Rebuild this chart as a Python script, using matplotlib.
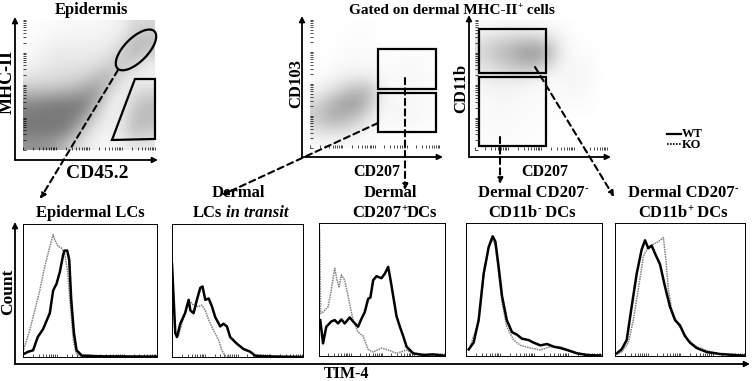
import numpy as np
import matplotlib
matplotlib.use('Agg')
import matplotlib.pyplot as plt
from matplotlib.patches import Ellipse, Polygon, Rectangle
from matplotlib.colors import LinearSegmentedColormap

plt.rcParams['font.family'] = ['Liberation Serif', 'DejaVu Serif']
plt.rcParams['font.weight'] = 'bold'

W, H = 752, 381

# ---- dot plot densities (rows top->bottom, cols left->right)
epi_density = [
    [0.00, 0.02, 0.03, 0.05, 0.05, 0.05, 0.08, 0.10, 0.30, 0.30],
    [0.02, 0.05, 0.08, 0.10, 0.10, 0.10, 0.12, 0.20, 0.50, 0.50],
    [0.05, 0.10, 0.15, 0.15, 0.15, 0.15, 0.20, 0.35, 0.55, 0.35],
    [0.10, 0.15, 0.20, 0.20, 0.20, 0.25, 0.35, 0.45, 0.30, 0.10],
    [0.20, 0.25, 0.25, 0.30, 0.35, 0.50, 0.60, 0.20, 0.10, 0.10],
    [0.50, 0.50, 0.55, 0.60, 0.70, 0.80, 0.30, 0.10, 0.25, 0.30],
    [0.90, 0.95, 1.00, 1.00, 1.00, 0.60, 0.15, 0.10, 0.40, 0.50],
    [1.00, 1.00, 1.00, 1.00, 0.80, 0.30, 0.10, 0.15, 0.50, 0.50],
    [1.00, 1.00, 1.00, 0.90, 0.40, 0.15, 0.10, 0.20, 0.50, 0.40],
    [0.80, 0.80, 0.70, 0.40, 0.20, 0.10, 0.05, 0.10, 0.20, 0.15],
]
cd103_density = [
    [0.00, 0.00, 0.00, 0.01, 0.01, 0.00, 0.00, 0.00, 0.00, 0.00],
    [0.00, 0.00, 0.01, 0.02, 0.02, 0.00, 0.00, 0.00, 0.00, 0.00],
    [0.00, 0.00, 0.02, 0.03, 0.03, 0.02, 0.00, 0.02, 0.02, 0.00],
    [0.00, 0.02, 0.05, 0.05, 0.05, 0.03, 0.02, 0.05, 0.03, 0.02],
    [0.03, 0.05, 0.10, 0.15, 0.15, 0.05, 0.03, 0.05, 0.05, 0.02],
    [0.10, 0.20, 0.35, 0.50, 0.50, 0.15, 0.05, 0.05, 0.03, 0.02],
    [0.30, 0.50, 0.70, 0.75, 0.50, 0.10, 0.05, 0.05, 0.05, 0.02],
    [0.40, 0.60, 0.60, 0.50, 0.25, 0.05, 0.05, 0.08, 0.05, 0.02],
    [0.25, 0.35, 0.30, 0.20, 0.08, 0.03, 0.03, 0.03, 0.02, 0.00],
    [0.05, 0.05, 0.05, 0.03, 0.02, 0.00, 0.00, 0.00, 0.00, 0.00],
]
cd11b_density = [
    [0.02, 0.05, 0.05, 0.05, 0.05, 0.03, 0.02, 0.00, 0.00, 0.00],
    [0.20, 0.30, 0.35, 0.40, 0.40, 0.30, 0.10, 0.02, 0.00, 0.00],
    [0.30, 0.45, 0.55, 0.70, 0.80, 0.60, 0.15, 0.03, 0.02, 0.00],
    [0.20, 0.30, 0.40, 0.50, 0.50, 0.30, 0.08, 0.05, 0.05, 0.00],
    [0.10, 0.15, 0.15, 0.15, 0.10, 0.05, 0.05, 0.08, 0.05, 0.00],
    [0.05, 0.08, 0.08, 0.06, 0.04, 0.02, 0.03, 0.06, 0.04, 0.00],
    [0.04, 0.05, 0.05, 0.04, 0.03, 0.02, 0.02, 0.03, 0.02, 0.00],
    [0.03, 0.04, 0.04, 0.03, 0.02, 0.01, 0.00, 0.00, 0.00, 0.00],
    [0.03, 0.03, 0.03, 0.02, 0.02, 0.01, 0.00, 0.00, 0.00, 0.00],
    [0.02, 0.02, 0.02, 0.02, 0.01, 0.00, 0.00, 0.00, 0.00, 0.00],
]

# ---- TIM-4 histograms (x and y as fraction of the panel)
epi_wt_x = [0.0, 0.04, 0.075, 0.11, 0.15, 0.2, 0.225, 0.25, 0.275, 0.3, 0.31, 0.33, 0.345, 0.36, 0.38, 0.4, 0.44, 0.6, 1.0]
epi_wt_y = [0.02, 0.04, 0.05, 0.15, 0.21, 0.33, 0.5, 0.55, 0.64, 0.77, 0.8, 0.8, 0.73, 0.43, 0.18, 0.05, 0.01, 0.005, 0.003]
epi_ko_x = [0.0, 0.05, 0.0875, 0.125, 0.1625, 0.2, 0.225, 0.2375, 0.2625, 0.2875, 0.3125, 0.3325, 0.35, 0.375, 0.395, 0.425, 0.6]
epi_ko_y = [0.04, 0.2, 0.35, 0.5, 0.68, 0.83, 0.92, 0.88, 0.83, 0.82, 0.77, 0.65, 0.43, 0.13, 0.03, 0.005, 0.0]

tr_wt_x = [0.0, 0.025, 0.038, 0.063, 0.10, 0.127, 0.14, 0.165, 0.19, 0.216, 0.233, 0.254, 0.28, 0.305, 0.33, 0.368, 0.393, 0.419, 0.444, 0.495, 0.546, 0.596, 0.635, 0.72, 1.0]
tr_wt_y = [0.70, 0.18, 0.15, 0.25, 0.33, 0.43, 0.35, 0.33, 0.43, 0.52, 0.53, 0.43, 0.44, 0.38, 0.30, 0.23, 0.25, 0.23, 0.15, 0.10, 0.06, 0.04, 0.01, 0.005, 0.0]
tr_ko_x = [0.0, 0.025, 0.05, 0.089, 0.127, 0.152, 0.178, 0.203, 0.228, 0.254, 0.28, 0.317, 0.355, 0.38, 0.406, 0.47]
tr_ko_y = [0.60, 0.19, 0.16, 0.30, 0.43, 0.40, 0.38, 0.38, 0.39, 0.35, 0.28, 0.20, 0.13, 0.05, 0.01, 0.0]

p207_wt_x = [0.01, 0.032, 0.058, 0.098, 0.125, 0.151, 0.178, 0.204, 0.244, 0.27, 0.31, 0.337, 0.363, 0.39, 0.408, 0.43, 0.456, 0.496, 0.523, 0.549, 0.568, 0.589, 0.615, 0.642, 0.668, 0.695, 0.748, 0.828, 0.907, 0.987]
p207_wt_y = [0.27, 0.095, 0.22, 0.26, 0.27, 0.245, 0.275, 0.245, 0.29, 0.26, 0.22, 0.28, 0.33, 0.43, 0.44, 0.57, 0.6, 0.585, 0.62, 0.67, 0.57, 0.45, 0.30, 0.22, 0.15, 0.07, 0.02, 0.008, 0.012, 0.003]
p207_ko_x = [0.005, 0.013, 0.032, 0.072, 0.098, 0.125, 0.143, 0.159, 0.178, 0.204, 0.231, 0.27, 0.31, 0.35, 0.39, 0.43, 0.496, 0.549, 0.615, 0.695, 0.748, 0.828]
p207_ko_y = [0.95, 0.32, 0.33, 0.37, 0.50, 0.66, 0.57, 0.52, 0.61, 0.57, 0.45, 0.27, 0.18, 0.15, 0.05, 0.03, 0.06, 0.045, 0.02, 0.045, 0.015, 0.005]

neg_wt_x = [0.02, 0.056, 0.093, 0.13, 0.167, 0.196, 0.216, 0.24, 0.265, 0.30, 0.338, 0.375, 0.412, 0.46, 0.498, 0.547, 0.596, 0.645, 0.694, 0.743, 0.816, 0.89, 0.988]
neg_wt_y = [0.05, 0.10, 0.27, 0.62, 0.82, 0.90, 0.86, 0.67, 0.45, 0.27, 0.18, 0.16, 0.13, 0.12, 0.10, 0.08, 0.09, 0.07, 0.06, 0.045, 0.02, 0.008, 0.003]
neg_ko_x = [0.02, 0.093, 0.13, 0.167, 0.196, 0.216, 0.24, 0.265, 0.30, 0.35, 0.40, 0.473, 0.547, 0.62, 0.694, 0.743, 0.816, 0.89, 0.988]
neg_ko_y = [0.04, 0.26, 0.60, 0.82, 0.88, 0.83, 0.62, 0.40, 0.22, 0.12, 0.08, 0.06, 0.045, 0.07, 0.07, 0.05, 0.025, 0.008, 0.002]

pos_wt_x = [0.013, 0.051, 0.09, 0.128, 0.167, 0.205, 0.231, 0.256, 0.282, 0.308, 0.346, 0.385, 0.423, 0.462, 0.5, 0.538, 0.577, 0.628, 0.705, 0.808, 0.987]
pos_wt_y = [0.02, 0.05, 0.12, 0.37, 0.62, 0.80, 0.87, 0.81, 0.83, 0.77, 0.69, 0.52, 0.37, 0.27, 0.23, 0.15, 0.10, 0.06, 0.03, 0.015, 0.003]
pos_ko_x = [0.013, 0.051, 0.103, 0.141, 0.179, 0.218, 0.256, 0.295, 0.333, 0.372, 0.392, 0.41, 0.436, 0.474, 0.513, 0.564, 0.628, 0.705, 0.808]
pos_ko_y = [0.015, 0.03, 0.10, 0.27, 0.50, 0.75, 0.82, 0.84, 0.86, 0.89, 0.72, 0.50, 0.35, 0.25, 0.20, 0.12, 0.07, 0.04, 0.015]

fig = plt.figure(figsize=(W / 100, H / 100), dpi=100)


def px_axes(x0, y0, x1, y1):
    return fig.add_axes([x0 / W, 1 - y1 / H, (x1 - x0) / W, (y1 - y0) / H])


# log-like minor ticks
minor = sorted({(d + np.log10(k)) / 4 for d in range(4) for k in range(1, 10)} | {1.0})

grey_cmap = LinearSegmentedColormap.from_list('g', ['white', '#7a7a7a'])


def dot_panel(box, dens, vmax=1.0):
    ax = px_axes(*box)
    ax.imshow(np.array(dens), cmap=grey_cmap, vmin=0, vmax=vmax,
              extent=[0, 1, 0, 1], interpolation='bicubic', aspect='auto')
    ax.set_xlim(0, 1)
    ax.set_ylim(0, 1)
    for s in ax.spines.values():
        s.set_visible(False)
    ax.set_xticks(minor)
    ax.set_yticks(minor)
    ax.tick_params(direction='in', length=2, width=0.5, labelbottom=False, labelleft=False)
    return ax


ax1 = dot_panel((23, 20, 155, 150), epi_density)
ax1.add_patch(Ellipse((0.856, 0.77), 0.40, 0.18, angle=46, fill=False, lw=1.6,
                      ec='black', transform=ax1.transAxes, clip_on=False))
ax1.add_patch(Polygon([(0.674, 0.077), (0.848, 0.546), (1.0, 0.546), (1.0, 0.085)],
                      closed=True, fill=False, lw=1.6, ec='black',
                      transform=ax1.transAxes, clip_on=False))

ax2 = dot_panel((310, 20, 439, 148), cd103_density)
for y0, y1 in [(0.462, 0.773), (0.125, 0.43)]:
    ax2.add_patch(Rectangle((0.527, y0), 0.45, y1 - y0, fill=False, lw=1.6, ec='black',
                            transform=ax2.transAxes, clip_on=False))

ax3 = dot_panel((475, 20, 607, 150), cd11b_density)
for y0, y1 in [(0.595, 0.93), (0.03, 0.565)]:
    ax3.add_patch(Rectangle((0.03, y0), 0.51, y1 - y0, fill=False, lw=1.6, ec='black',
                            transform=ax3.transAxes, clip_on=False))

# histogram panels
hists = [
    ((23, 224, 157, 357), epi_wt_x, epi_wt_y, epi_ko_x, epi_ko_y),
    ((172, 224, 303, 357), tr_wt_x, tr_wt_y, tr_ko_x, tr_ko_y),
    ((319, 223, 445, 356), p207_wt_x, p207_wt_y, p207_ko_x, p207_ko_y),
    ((466, 223, 602, 356), neg_wt_x, neg_wt_y, neg_ko_x, neg_ko_y),
    ((615, 223, 745, 356), pos_wt_x, pos_wt_y, pos_ko_x, pos_ko_y),
]
for box, wx, wy, kx, ky in hists:
    ax = px_axes(*box)
    ax.plot(kx, ky, color='#808080', lw=1.1, ls=(0, (1, 0.6)))
    ax.plot(wx, wy, color='black', lw=1.8)
    ax.set_xlim(0, 1)
    ax.set_ylim(0, 1)
    for s in ax.spines.values():
        s.set_linewidth(0.7)
    ax.set_xticks(minor)
    ax.set_yticks([])
    ax.tick_params(direction='in', length=2, width=0.5, labelbottom=False)

# overlay for arrows and text
ov = fig.add_axes([0, 0, 1, 1], zorder=10)
ov.patch.set_alpha(0)
ov.set_xlim(0, W)
ov.set_ylim(H, 0)
ov.axis('off')


def arrow(x0, y0, x1, y1, dashed=False):
    ov.annotate('', xy=(x1, y1), xytext=(x0, y0),
                arrowprops=dict(arrowstyle='-|>', color='black', lw=1.5 if dashed else 1.3,
                                ls=(0, (3, 2)) if dashed else '-', mutation_scale=8,
                                shrinkA=0, shrinkB=0))


def rich(x, y, parts, fs):
    # left-aligned run of text pieces; pieces flagged True are superscripts
    base = ov.text(x, y, parts[0][0], fontsize=fs, ha='left', va='center', fontweight='bold')
    prev = base
    for txt, is_sup in parts[1:]:
        if is_sup:
            prev = ov.annotate(txt, xy=(1, 0.78), xycoords=(prev, base), fontsize=fs * 0.62,
                               ha='left', va='center', fontweight='bold')
        else:
            prev = ov.annotate(txt, xy=(1, 0.5), xycoords=(prev, base), fontsize=fs,
                               ha='left', va='center', fontweight='bold')


# plot axes arrows
for xa, ya, xe, yt in [(15, 160, 158, 17), (302, 157, 443, 16), (469, 157, 611, 15)]:
    arrow(xa, ya, xa, yt)
    arrow(xa, ya, xe, ya)
arrow(15, 364, 15, 222)
arrow(15, 364, 750, 364)

# gating arrows
arrow(118, 70, 40, 199, dashed=True)
arrow(378, 123, 222, 195, dashed=True)
arrow(405, 78, 405, 190, dashed=True)
arrow(500, 137, 500, 184, dashed=True)
arrow(535, 67, 614, 197, dashed=True)

tk = dict(ha='center', va='center', fontweight='bold')
ov.text(91, 10, 'Epidermis', fontsize=12, **tk)
rich(349, 10, [('Gated on dermal MHC-II', False), ('+', True), (' cells', False)], 11)
ov.text(7, 82, 'MHC-II', fontsize=13, rotation=90, **tk)
ov.text(97, 173, 'CD45.2', fontsize=14, **tk)
ov.text(296, 84, 'CD103', fontsize=12, rotation=90, **tk)
ov.text(377, 172, 'CD207', fontsize=11.5, **tk)
ov.text(461, 88, 'CD11b', fontsize=12, rotation=90, **tk)
ov.text(545, 172, 'CD207', fontsize=11.5, **tk)

# legend
ov.plot([667, 681], [134, 134], color='black', lw=1.6)
ov.plot([667, 681], [144, 144], color='black', lw=1.2, ls=(0, (1, 0.8)))
ov.text(682, 134, 'WT', fontsize=9, ha='left', va='center', fontweight='bold')
ov.text(682, 145, 'KO', fontsize=9, ha='left', va='center', fontweight='bold')

ov.text(90, 213, 'Epidermal LCs', fontsize=12, **tk)
ov.text(238, 193, 'Dermal', fontsize=12, **tk)
ov.text(222, 213, 'LCs', fontsize=12, ha='right', va='center', fontweight='bold')
ov.text(226, 213, 'in transit', fontsize=12, ha='left', va='center', fontweight='bold', style='italic')
ov.text(390, 193, 'Dermal', fontsize=12, **tk)
rich(352, 213, [('CD207', False), ('+', True), ('DCs', False)], 12)
rich(478, 193, [('Dermal CD207', False), ('-', True)], 12)
rich(488, 213, [('CD11b', False), ('-', True), (' DCs', False)], 12)
rich(628, 193, [('Dermal CD207', False), ('-', True)], 12)
rich(638, 213, [('CD11b', False), ('+', True), (' DCs', False)], 12)
ov.text(8, 292, 'Count', fontsize=12.5, rotation=90, **tk)
ov.text(347, 374, 'TIM-4', fontsize=11.5, **tk)

fig.savefig('out.png', dpi=100)
